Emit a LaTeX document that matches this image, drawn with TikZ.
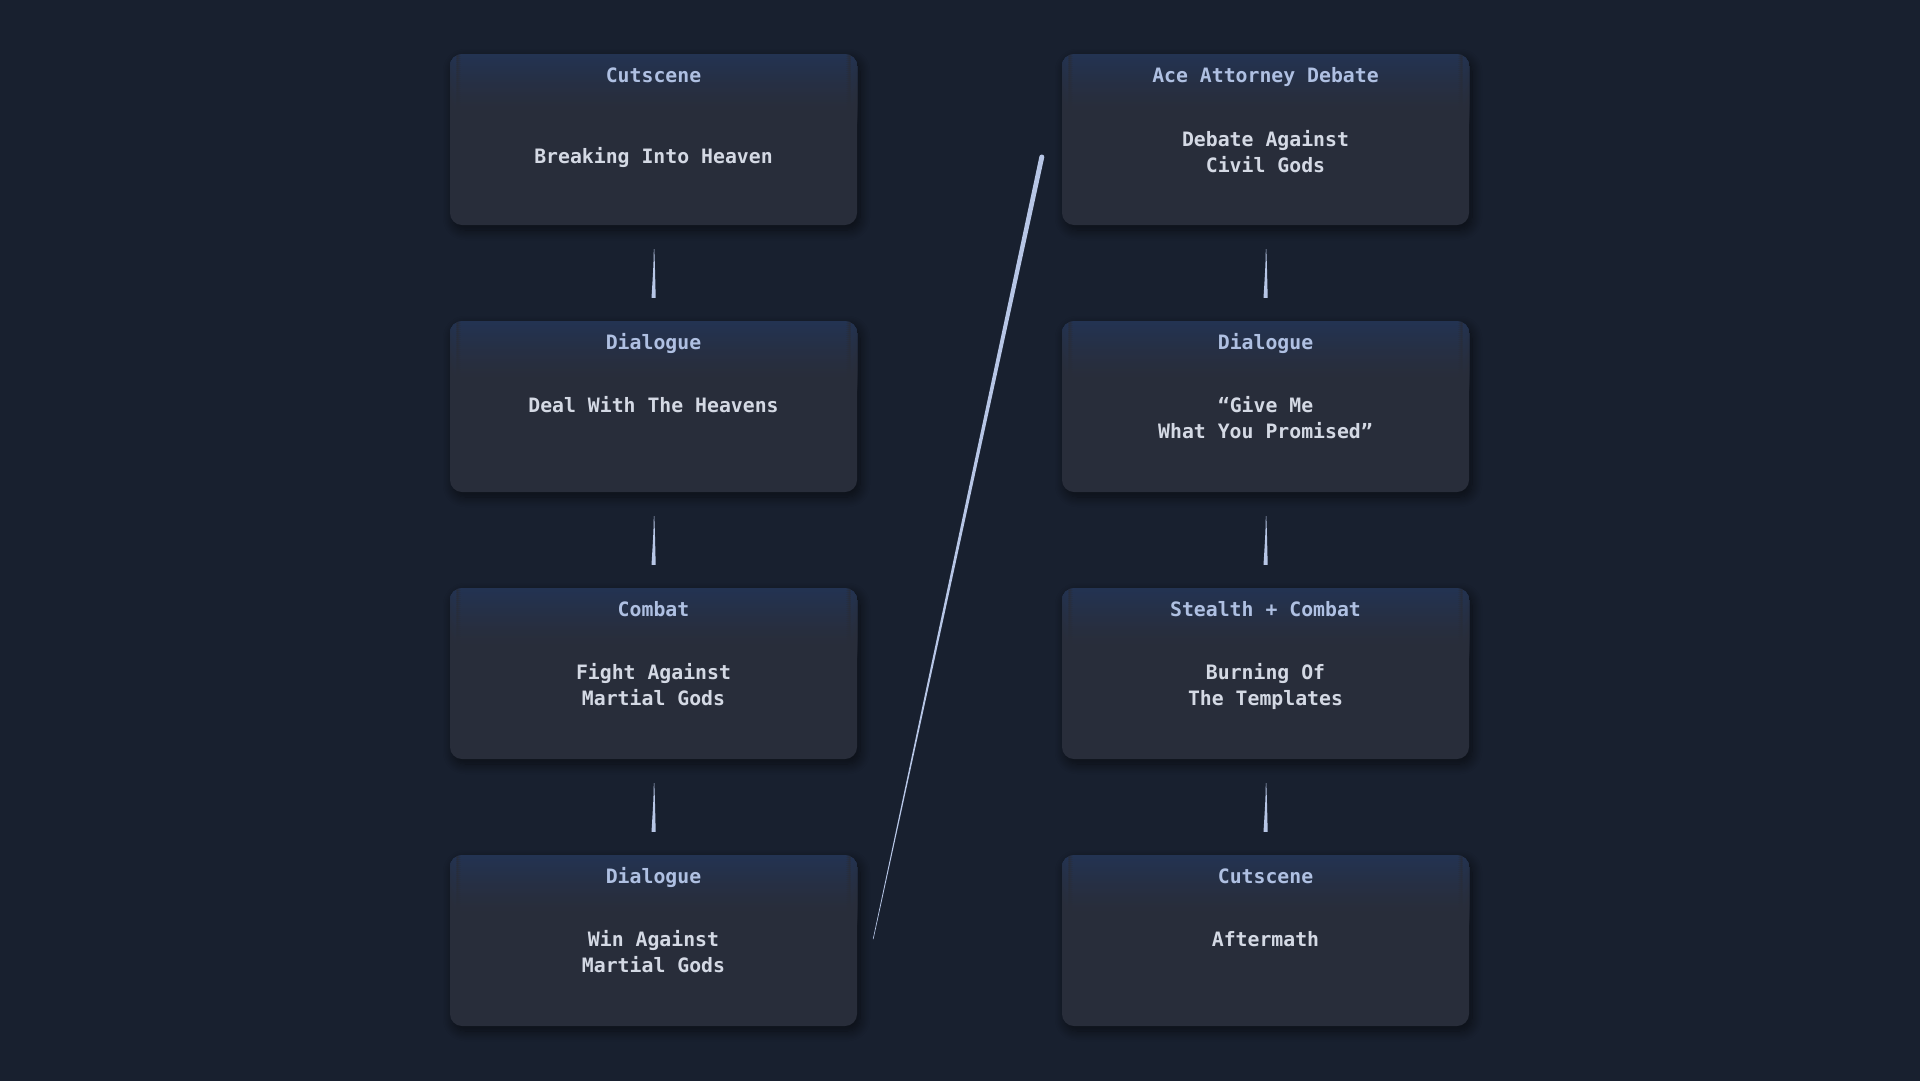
\documentclass[tikz,border=0pt]{standalone}
\usepackage{fontspec}
\setmonofont{DejaVu Sans Mono}
\usetikzlibrary{calc,shadows.blur}
\definecolor{bg}{HTML}{18202F}
\definecolor{boxbody}{HTML}{282D3A}
\definecolor{boxhead}{HTML}{233352}
\definecolor{hdtext}{HTML}{AFC0E2}
\definecolor{bdtext}{HTML}{D4D9E4}
\definecolor{conncol}{HTML}{B7C6E6}
\tikzset{
  card/.style={rounded corners=12bp, minimum width=407bp, minimum height=171bp, inner sep=0pt,
    fill=boxbody,
    blur shadow={shadow xshift=3bp, shadow yshift=-5bp, shadow blur steps=12, shadow opacity=55, shadow blur radius=10bp},
    path picture={
      \foreach \i in {0,...,29}{
        \pgfmathsetmacro{\mix}{100*(1-\i/29)^1.3}
        \fill[boxhead!\mix!boxbody]
          ([yshift=-2*\i bp]path picture bounding box.north west) rectangle
          ([yshift=-2*\i bp-2.2bp]path picture bounding box.north east);
      }}},
  headtxt/.style={font=\fontsize{19.8bp}{24bp}\selectfont\ttfamily\bfseries, text=hdtext, inner sep=0pt, anchor=base},
  bodytxt/.style={font=\fontsize{19.8bp}{26bp}\selectfont\ttfamily\bfseries, text=bdtext, align=center, inner sep=0pt, anchor=base},
  connline/.style={fill=conncol}
}
\begin{document}
\begin{tikzpicture}[x=1bp,y=-1bp]
\useasboundingbox (0,0) rectangle (1920,1080);
\fill[bg] (-4,-4) rectangle (1924,1084);

% cards
\node[card] (c1) at (653.5,139.5) {};
\node[card] (c2) at (653.5,406.5) {};
\node[card] (c3) at (653.5,673.5) {};
\node[card] (c4) at (653.5,940.5) {};
\node[card] (d1) at (1265.5,139.5) {};
\node[card] (d2) at (1265.5,406.5) {};
\node[card] (d3) at (1265.5,673.5) {};
\node[card] (d4) at (1265.5,940.5) {};

% headers
\node[headtxt] (h1) at ($(c1.north)+(0,28.7)$) {Cutscene};
\node[headtxt] (h2) at ($(c2.north)+(0,28.7)$) {Dialogue};
\node[headtxt] (h3) at ($(c3.north)+(0,28.7)$) {Combat};
\node[headtxt] (h4) at ($(c4.north)+(0,28.7)$) {Dialogue};
\node[headtxt] (k1) at ($(d1.north)+(0,28.7)$) {Ace Attorney Debate};
\node[headtxt] (k2) at ($(d2.north)+(0,28.7)$) {Dialogue};
\node[headtxt] (k3) at ($(d3.north)+(0,28.7)$) {Stealth + Combat};
\node[headtxt] (k4) at ($(d4.north)+(0,28.7)$) {Cutscene};

% bodies (base anchor = baseline of last line)
\node[bodytxt] (b1) at ($(c1.north)+(0,110)$) {Breaking Into Heaven};
\node[bodytxt] (b2) at ($(c2.north)+(0,91.5)$) {Deal With The Heavens};
\node[bodytxt] (b3) at ($(c3.north)+(0,118)$) {Fight Against\\Martial Gods};
\node[bodytxt] (b4) at ($(c4.north)+(0,118)$) {Win Against\\Martial Gods};
\node[bodytxt] (e1) at ($(d1.north)+(0,119)$) {Debate Against\\Civil Gods};
\node[bodytxt] (e2) at ($(d2.north)+(0,118)$) {“Give Me\\What You Promised”};
\node[bodytxt] (e3) at ($(d3.north)+(0,118)$) {Burning Of\\The Templates};
\node[bodytxt] (e4) at ($(d4.north)+(0,91.5)$) {Aftermath};

% vertical tapered connectors
\foreach \a/\b in {c1/c2,c2/c3,c3/c4,d1/d2,d2/d3,d3/d4}{
  \fill[connline] ($(\a.south)+(0.8,24)$) .. controls ($(\a.south)+(1.4,40)$) .. ($(\b.north)+(2.2,-23)$)
     -- ($(\b.north)+(-2,-23)$) .. controls ($(\a.south)+(0,40)$) .. ($(\a.south)+(0.3,24)$) -- cycle;
}

% diagonal tapered connector
\coordinate (ds) at ($(c4.east)+(16,-1.5)$);
\coordinate (de) at ($(d1.west)+(-20,17.5)$);
\fill[connline] ($(ds)+(0.3,0)$) -- ($(de)+(2.4,0.5)$) -- ($(de)+(-2.4,-0.5)$) -- ($(ds)+(-0.3,0)$) -- cycle;
\fill[connline] (de) circle (2.5);
\end{tikzpicture}
\end{document}
